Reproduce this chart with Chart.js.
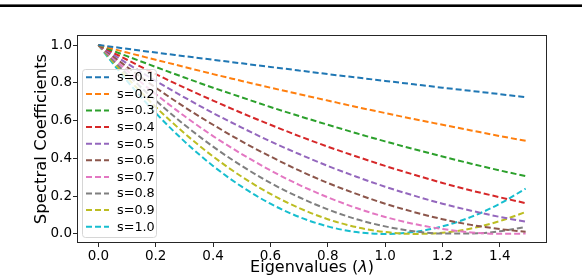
<!DOCTYPE html>
<html>
<head>
<meta charset="utf-8">
<script src="https://cdn.jsdelivr.net/npm/chart.js@4/dist/chart.umd.min.js"></script>
<style>
  html, body { margin: 0; padding: 0; background: #fff; }
  #wrap { position: relative; width: 582px; height: 278px; }
  #rule1 { position: absolute; left: 0; top: 4px; width: 582px; height: 1px; background: #666; }
  #rule2 { position: absolute; left: 0; top: 5px; width: 582px; height: 2px; background: #000; }
  canvas { position: absolute; left: 0; top: 0; }
</style>
</head>
<body>
<div id="wrap">
  <canvas id="c" width="582" height="278"></canvas>
  <div id="rule1"></div>
  <div id="rule2"></div>
</div>
<script>
// Eigenvalue samples (x)
const lambdas = [0, 0.1, 0.2, 0.3, 0.4, 0.5, 0.6, 0.7, 0.8, 0.9, 1.0, 1.1, 1.2, 1.3, 1.4, 1.49];
const seriesLabels = ['s=0.1','s=0.2','s=0.3','s=0.4','s=0.5','s=0.6','s=0.7','s=0.8','s=0.9','s=1.0'];
const s01 = [1, 0.980, 0.960, 0.941, 0.922, 0.903, 0.884, 0.865, 0.846, 0.828, 0.810, 0.792, 0.774, 0.757, 0.740, 0.724];
const s02 = [1, 0.960, 0.922, 0.884, 0.846, 0.810, 0.774, 0.740, 0.706, 0.672, 0.640, 0.608, 0.578, 0.548, 0.518, 0.493];
const s03 = [1, 0.941, 0.884, 0.828, 0.774, 0.723, 0.672, 0.624, 0.578, 0.533, 0.490, 0.449, 0.410, 0.372, 0.336, 0.306];
const s04 = [1, 0.922, 0.846, 0.774, 0.706, 0.640, 0.578, 0.518, 0.462, 0.410, 0.360, 0.314, 0.270, 0.230, 0.194, 0.163];
const s05 = [1, 0.903, 0.810, 0.723, 0.640, 0.563, 0.490, 0.423, 0.360, 0.303, 0.250, 0.203, 0.160, 0.123, 0.090, 0.065];
const s06 = [1, 0.884, 0.774, 0.672, 0.578, 0.490, 0.410, 0.336, 0.270, 0.212, 0.160, 0.116, 0.078, 0.048, 0.026, 0.011];
const s07 = [1, 0.865, 0.740, 0.624, 0.518, 0.423, 0.336, 0.260, 0.194, 0.137, 0.090, 0.053, 0.026, 0.008, 0.0004, 0.002];
const s08 = [1, 0.846, 0.706, 0.578, 0.462, 0.360, 0.270, 0.194, 0.130, 0.078, 0.040, 0.014, 0.002, 0.002, 0.014, 0.037];
const s09 = [1, 0.828, 0.672, 0.533, 0.410, 0.303, 0.212, 0.137, 0.078, 0.036, 0.010, 0.0001, 0.006, 0.029, 0.068, 0.116];
const s10 = [1, 0.810, 0.640, 0.490, 0.360, 0.250, 0.160, 0.090, 0.040, 0.010, 0, 0.010, 0.040, 0.090, 0.160, 0.240];
const seriesValues = [s01, s02, s03, s04, s05, s06, s07, s08, s09, s10];
const xTickValues = [0, 0.2, 0.4, 0.6, 0.8, 1.0, 1.2, 1.4];
const yTickValues = [0, 0.2, 0.4, 0.6, 0.8, 1.0];
const xTitleParts = ['Eigenvalues (', 'λ', ')'];
const colors = ['#1f77b4','#ff7f0e','#2ca02c','#d62728','#9467bd','#8c564b','#e377c2','#7f7f7f','#bcbd22','#17becf'];

const FONT = "'DejaVu Sans', sans-serif";
const DASH = [6, 3];

const datasets = seriesValues.map((vals, i) => ({
  label: seriesLabels[i],
  data: vals.map((v, j) => ({ x: lambdas[j], y: v })),
  borderColor: colors[i],
  backgroundColor: colors[i],
  borderWidth: 2,
  borderDash: DASH,
  pointRadius: 0,
  fill: false,
  cubicInterpolationMode: 'monotone'
}));

const frameAndLegend = {
  id: 'frameAndLegend',
  afterDraw(chart) {
    const { ctx, chartArea: a } = chart;
    ctx.save();
    ctx.strokeStyle = '#262626';
    ctx.lineWidth = 1;
    ctx.strokeRect(a.left + 0.5, a.top + 0.5, a.right - a.left - 1, a.bottom - a.top - 1);
    // x axis title with italic lambda
    ctx.fillStyle = '#000';
    ctx.textBaseline = 'middle';
    ctx.textAlign = 'left';
    const fonts = ['16px ' + FONT, 'italic 16px ' + FONT, '16px ' + FONT];
    let total = 0;
    const widths = xTitleParts.map((t, k) => { ctx.font = fonts[k]; const w = ctx.measureText(t).width; total += w; return w; });
    let tx = (a.left + a.right) / 2 - total / 2;
    xTitleParts.forEach((t, k) => { ctx.font = fonts[k]; ctx.fillText(t, tx, 268); tx += widths[k]; });
    // legend
    const lx = a.left + 5, ly = a.top + 34, lw = 74, lh = 168;
    ctx.beginPath();
    ctx.roundRect(lx + 0.5, ly + 0.5, lw, lh, 3);
    ctx.fillStyle = 'rgba(255,255,255,0.8)';
    ctx.fill();
    ctx.strokeStyle = '#d6d6d6';
    ctx.stroke();
    ctx.font = '12.8px ' + FONT;
    ctx.textBaseline = 'middle';
    ctx.textAlign = 'left';
    chart.data.datasets.forEach((ds, i) => {
      const y = ly + 8.3 + 16.6 * i;
      ctx.beginPath();
      ctx.setLineDash(ds.borderDash);
      ctx.lineWidth = ds.borderWidth;
      ctx.strokeStyle = ds.borderColor;
      ctx.moveTo(lx + 4, y);
      ctx.lineTo(lx + 27, y);
      ctx.stroke();
      ctx.setLineDash([]);
      ctx.fillStyle = '#000';
      ctx.fillText(ds.label, lx + 35, y + 0.5);
    });
    ctx.restore();
  }
};

new Chart(document.getElementById('c'), {
  type: 'line',
  data: { datasets },
  options: {
    responsive: false,
    animation: false,
    events: [],
    layout: { padding: { top: 35, right: 35, left: 0, bottom: 0 } },
    plugins: { legend: { display: false }, tooltip: { enabled: false } },
    scales: {
      x: {
        type: 'linear',
        min: -0.0745,
        max: 1.5645,
        afterFit(scale) { scale.height = 35; },
        afterBuildTicks(scale) { scale.ticks = xTickValues.map(v => ({ value: v })); },
        border: { display: false },
        grid: { display: true, drawOnChartArea: false, drawTicks: true, tickLength: 4, color: '#262626', tickWidth: 1 },
        ticks: {
          font: { family: FONT, size: 13.5 },
          color: '#000',
          padding: 1,
          maxRotation: 0,
          autoSkip: false,
          callback: v => Number(v).toFixed(1)
        },
        title: { display: false }
      },
      y: {
        type: 'linear',
        min: -0.048,
        max: 1.053,
        afterFit(scale) { scale.width = 77; },
        afterBuildTicks(scale) { scale.ticks = yTickValues.map(v => ({ value: v })); },
        border: { display: false },
        grid: { display: true, drawOnChartArea: false, drawTicks: true, tickLength: 4, color: '#262626', tickWidth: 1 },
        ticks: {
          font: { family: FONT, size: 13.5 },
          color: '#000',
          padding: 1,
          autoSkip: false,
          callback: v => Number(v).toFixed(1)
        },
        title: {
          display: true,
          text: 'Spectral Coefficients',
          font: { family: FONT, size: 16.5 },
          color: '#000',
          padding: { top: 32, bottom: 0 }
        }
      }
    }
  },
  plugins: [frameAndLegend]
});
</script>
</body>
</html>
